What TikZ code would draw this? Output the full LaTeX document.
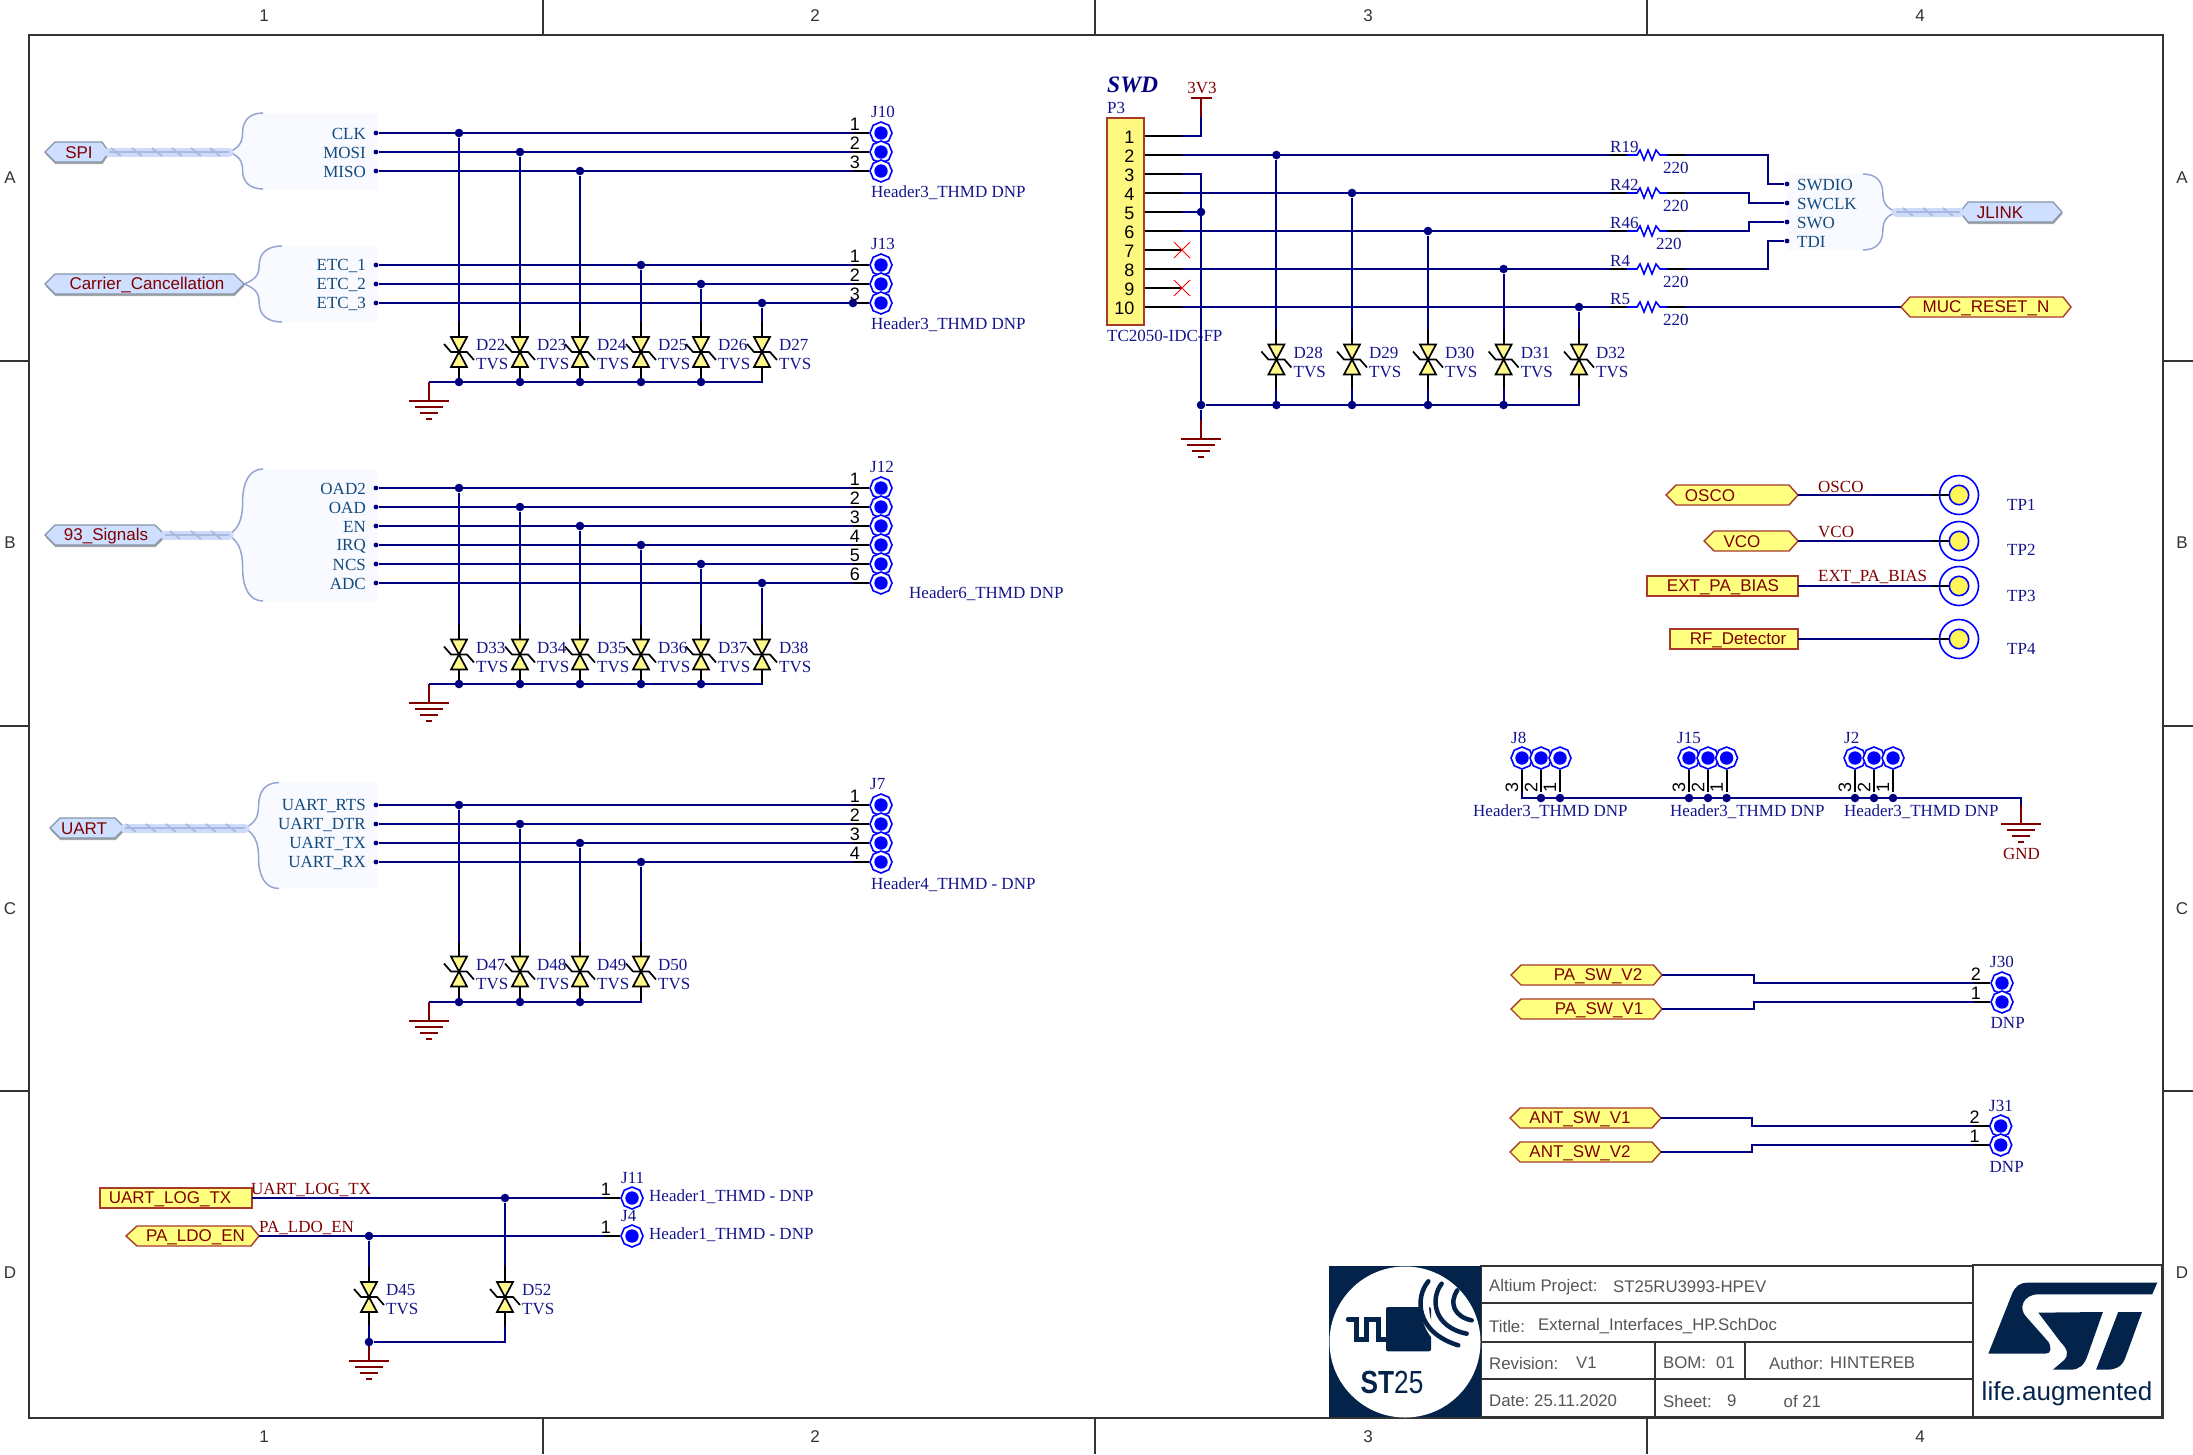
\documentclass[tikz,border=0pt]{standalone}
\usepackage{fontspec}
\setmainfont{Liberation Serif}
\setsansfont{Liberation Sans}
\usetikzlibrary{calc,shapes.geometric}

\definecolor{wireblue}{HTML}{000080}
\definecolor{desigblue}{HTML}{14148C}
\definecolor{netred}{HTML}{800000}
\definecolor{padblue}{HTML}{0000FF}
\definecolor{portyellow}{HTML}{FFFF80}
\definecolor{portedge}{HTML}{A83A2A}
\definecolor{busfill}{HTML}{CFDFFF}
\definecolor{busedge}{HTML}{8494AA}
\definecolor{bundlefill}{HTML}{CFDCF9}
\definecolor{bundleline}{HTML}{A9B9E2}
\definecolor{boxfill}{HTML}{F8FAFF}
\definecolor{boxcurve}{HTML}{95A5D2}
\definecolor{harnesstext}{HTML}{134A7E}
\definecolor{sheetgrey}{HTML}{333333}
\definecolor{titlegrey}{HTML}{555555}
\definecolor{stnavy}{HTML}{03234B}

\tikzset{
    wire/.style={draw=wireblue,line width=2pt},
    pinwire/.style={draw=black,line width=2pt},
    junction/.style={circle,fill=wireblue,inner sep=0pt,minimum size=8.6pt},
    harnessdot/.style={circle,fill=wireblue,inner sep=0pt,minimum size=4.8pt},
    desig/.style={anchor=west,inner sep=0pt,text=desigblue,font=\fontsize{17}{17}\selectfont},
    netlabel/.style={anchor=west,inner sep=0pt,text=netred,font=\fontsize{17}{17}\selectfont},
    pinnum/.style={inner sep=0pt,text=black,font=\sffamily\fontsize{18}{18}\selectfont},
    porttext/.style={inner sep=0pt,yshift=-1pt,text=netred,font=\sffamily\fontsize{17}{17}\selectfont},
    harnessname/.style={inner sep=0pt,yshift=-1pt,text=harnesstext,font=\fontsize{17}{17}\selectfont},
    yellowport/.style={fill=portyellow,draw=portedge,line width=1.4pt},
    busport/.style={fill=busfill,draw=busedge,line width=1.2pt,
        preaction={fill=gray!70,transform canvas={shift={(0.5pt,-2pt)}}}},
    tvsbody/.style={fill=yellow!45!white,draw=black,line width=1.7pt,line join=miter},
    gndred/.style={draw=netred,line width=2pt},
    padshape/.style={regular polygon,regular polygon sides=8,shape border rotate=22.5,
        draw=padblue,line width=1.6pt,fill=white,inner sep=0pt,minimum size=22pt},
    sheetline/.style={draw=sheetgrey,line width=1.1pt},
    zonetext/.style={inner sep=0pt,text=sheetgrey,font=\sffamily\fontsize{17}{17}\selectfont},
    titletext/.style={anchor=west,inner sep=0pt,text=titlegrey,font=\sffamily\fontsize{16.8}{17}\selectfont}
}

% TVS diode: name, x, centre y
\newcommand{\tvsdiode}[3]{
    \begin{scope}[shift={(#2,#3)}]
        \coordinate (#1-t) at (0,-30);
        \coordinate (#1-b) at (0,28);
        \draw[pinwire] (#1-t) -- (#1-b);
        \draw[tvsbody] (-8,-15) -- (8,-15) -- (0,0) -- cycle;
        \draw[tvsbody] (-8,15) -- (8,15) -- (0,0) -- cycle;
        \draw[draw=black,line width=1.7pt] (-15,-8) -- (-8,0) -- (8,0) -- (15,8);
        \node[desig] (#1) at (17,-7) {#1};
        \node[desig] (#1-v) at (17,12) {TVS};
    \end{scope}
}

% Ground symbol: name, x, y of the long bar
\newcommand{\gndsym}[3]{
    \coordinate (#1-s) at (#2,#3-19);
    \draw[gndred] (#1-s) -- (#2,#3);
    \draw[gndred] (#2-20,#3) -- (#2+20,#3);
    \draw[gndred] (#2-14,#3+6) -- (#2+14,#3+6);
    \draw[gndred] (#2-9,#3+12) -- (#2+9,#3+12);
    \draw[gndred] (#2-3,#3+18) -- (#2+3,#3+18);
}

% Header pad without its pin: name, x, y
\newcommand{\padnode}[3]{
    \node[padshape] (#1) at (#2,#3) {};
    \fill[padblue] (#2,#3) circle (6.7);
}

% Header pad with horizontal pin: name, x, y, number
\newcommand{\headerpad}[4]{
    \padnode{#1}{#2}{#3}
    \coordinate (#1-p) at (#2-28,#3);
    \draw[pinwire] (#1-p) -- (#1);
    \node[pinnum,anchor=east] (#1-n) at (#2-21,#3-9) {#4};
}

% Port: style, name, left tip, left shoulder, right shoulder, right tip, y, half height, text x, text
\newcommand{\portshape}[9]{
    \coordinate (#2-w) at (#3,#7);
    \coordinate (#2-e) at (#6,#7);
    \draw[#1] (#3,#7) -- (#4,#7-#8) -- (#5,#7-#8) -- (#6,#7) -- (#5,#7+#8) -- (#4,#7+#8) -- cycle;
    \portlabel{#2}{#7}{#9}
}
\newcommand{\portlabel}[3]{\def\portx{#3}\portlabelrest{#1}{#2}}
\newcommand{\portlabelrest}[3]{\node[porttext] (#1) at (\portx,#2) {#3};}

% Harness entry: name, tip x, curve x, edge x, top y, bottom y, tip y
\newcommand{\harnessentry}[7]{
    \pgfmathsetmacro{\hd}{#3-#2}
    \pgfmathsetmacro{\hm}{#2+0.4*\hd}
    \pgfmathsetmacro{\hc}{#2+0.25*\hd}
    \pgfmathsetmacro{\he}{#2+0.6*\hd}
    \coordinate (#1-tip) at (#2,#7);
    \fill[boxfill] (#3,#5) .. controls (\he,#5) and (\hm,{#5+0.2*(#7-#5)}) .. (\hm,{(#5+#7)/2})
        .. controls (\hm,{#7-0.2*(#7-#5)}) and (\hc,{#7-0.1*(#7-#5)}) .. (#2,#7)
        .. controls (\hc,{#7+0.1*(#6-#7)}) and (\hm,{#7+0.2*(#6-#7)}) .. (\hm,{(#6+#7)/2})
        .. controls (\hm,{#6-0.2*(#6-#7)}) and (\he,#6) .. (#3,#6)
        -- (#4,#6) -- (#4,#5) -- cycle;
    \draw[boxcurve,line width=1.5pt] (#3,#5) .. controls (\he,#5) and (\hm,{#5+0.2*(#7-#5)}) .. (\hm,{(#5+#7)/2})
        .. controls (\hm,{#7-0.2*(#7-#5)}) and (\hc,{#7-0.1*(#7-#5)}) .. (#2,#7)
        .. controls (\hc,{#7+0.1*(#6-#7)}) and (\hm,{#7+0.2*(#6-#7)}) .. (\hm,{(#6+#7)/2})
        .. controls (\hm,{#6-0.2*(#6-#7)}) and (\he,#6) .. (#3,#6);
}

% Harness bundle: from, to, y, tick positions
\newcommand{\bundlerun}[4]{
    \draw[bundlefill,line width=9pt,line cap=round] (#1) -- (#2);
    \draw[bundleline,line width=1.5pt] (#1) -- (#2);
    \foreach \tk in {#4} {
        \draw[bundleline,line width=1.8pt] (\tk-5,#3-4) -- (\tk+5,#3+4);
    }
}

% Harness row: name, y, text
\newcommand{\netrow}[3]{
    \node[harnessdot] (#1) at (376,#2) {};
    \node[harnessname,anchor=east] (#1-t) at (366,#2) {#3};
}

% Series resistor: name, y, value x
\newcommand{\resistor}[3]{
    \begin{scope}[shift={(1610,#2)}]
        \coordinate (#1-w) at (0,0);
        \coordinate (#1-e) at (75,0);
        \draw[pinwire] (0,0) -- (17,0);
        \draw[pinwire] (57,0) -- (75,0);
        \draw[draw=padblue,line width=1.6pt] (17,0) -- (27,0) -- (30,-5) -- (34,5) -- (38,-5)
            -- (42,5) -- (46,-5) -- (50,0) -- (57,0);
        \node[desig] (#1) at (0,-8) {#1};
        \node[desig] (#1-v) at (#3-1610,13) {220};
    \end{scope}
}

% Test point: name, y, label y
\newcommand{\testpoint}[3]{
    \coordinate (#1-p) at (1932,#2);
    \draw[pinwire] (#1-p) -- (1950,#2);
    \draw[draw=padblue,line width=1.6pt] (1959,#2) circle (19.5);
    \draw[draw=padblue,fill=yellow!65!white,line width=1.6pt] (1959,#2) circle (9.7);
    \node[desig] (#1) at (2007,#3) {#1};
}

\begin{document}
\begin{tikzpicture}[x=1pt,y=-1pt]
    \useasboundingbox (0,0) rectangle (2193,1454);

    % Sheet frame
    \draw[sheetline] (29,35) rectangle (2163,1418);
    \foreach \x in {543,1095,1647} {
        \draw[sheetline] (\x,0) -- (\x,35);
        \draw[sheetline] (\x,1418) -- (\x,1454);
    }
    \foreach \y in {361,726,1091} {
        \draw[sheetline] (0,\y) -- (29,\y);
        \draw[sheetline] (2163,\y) -- (2193,\y);
    }
    \foreach \x [count=\i] in {264,815,1368,1920} {
        \node[zonetext] (ztop\i) at (\x,16) {\i};
        \node[zonetext] (zbot\i) at (\x,1437) {\i};
    }
    \foreach \y/\z in {178/A,543/B,909/C,1273/D} {
        \node[zonetext] (zleft\z) at (10,\y) {\z};
        \node[zonetext] (zright\z) at (2182,\y) {\z};
    }

    % SPI and ETC harnesses
    \harnessentry{spibox}{229}{263}{377}{113}{189}{152}
    \harnessentry{etcbox}{244}{282}{377}{246}{322}{284}
    \portshape{busport}{spiport}{45}{55}{102}{109}{152}{10}{79}{SPI}
    \portshape{busport}{etcport}{45}{55}{234}{244}{284}{10}{147}{Carrier\_Cancellation}
    \bundlerun{spiport-e}{spibox-tip}{152}{116,137,157,177,196,215}

    % Headers J10, J13
    \foreach \y [count=\i] in {133,152,171} {\headerpad{J10-\i}{881}{\y}{\i}}
    \foreach \y [count=\i] in {265,284,303} {\headerpad{J13-\i}{881}{\y}{\i}}
    \node[desig] (J10) at (871,112) {J10};
    \node[desig] (J10-v) at (871,192.5) {Header3\_THMD DNP};
    \node[desig] (J13) at (871,244) {J13};
    \node[desig] (J13-v) at (871,325) {Header3\_THMD DNP};
    \node[junction] (J13-3-j) at (J13-3-p) {};

    \foreach \nm/\y/\txt/\tgt in {clk/133/CLK/J10-1,mosi/152/MOSI/J10-2,miso/171/MISO/J10-3,
        etca/265/ETC\_1/J13-1,etcb/284/ETC\_2/J13-2,etcc/303/ETC\_3/J13-3} {
        \netrow{\nm}{\y}{\txt}
        \draw[wire] (\nm) -- (\tgt-p);
    }

    % Diodes D22 to D27
    \foreach \d/\x/\nm in {D22/459/clk,D23/520/mosi,D24/580/miso,D25/641/etca,D26/701/etcb,D27/762/etcc} {
        \tvsdiode{\d}{\x}{352}
        \node[junction] (\d-j) at (\d-t |- \nm) {};
        \draw[wire] (\d-j) -- (\d-t);
    }
    \gndsym{gndA}{429}{401}
    \draw[wire] (gndA-s) -| (D27-b);
    \foreach \d in {D22,D23,D24,D25,D26} {
        \node[junction] (\d-s) at (\d-b |- gndA-s) {};
    }

    % 93 signals harness
    \harnessentry{sigbox}{229}{263}{377}{469}{601}{535}
    \portshape{busport}{sigport}{45}{55}{155}{165}{535}{10}{106}{93\_Signals}
    \bundlerun{sigport-e}{sigbox-tip}{535}{175,196,216}

    % Header J12
    \foreach \y [count=\i] in {488,507,526,545,564,583} {\headerpad{J12-\i}{881}{\y}{\i}}
    \node[desig] (J12) at (870,466.5) {J12};
    \node[desig] (J12-v) at (909,594) {Header6\_THMD DNP};

    \foreach \nm/\y/\txt/\tgt in {oadb/488/OAD2/J12-1,oad/507/OAD/J12-2,en/526/EN/J12-3,
        irq/545/IRQ/J12-4,ncs/564/NCS/J12-5,adc/583/ADC/J12-6} {
        \netrow{\nm}{\y}{\txt}
        \draw[wire] (\nm) -- (\tgt-p);
    }

    % Diodes D33 to D38
    \foreach \d/\x/\nm in {D33/459/oadb,D34/520/oad,D35/580/en,D36/641/irq,D37/701/ncs,D38/762/adc} {
        \tvsdiode{\d}{\x}{654.5}
        \node[junction] (\d-j) at (\d-t |- \nm) {};
        \draw[wire] (\d-j) -- (\d-t);
    }
    \gndsym{gndB}{429}{703}
    \draw[wire] (gndB-s) -| (D38-b);
    \foreach \d in {D33,D34,D35,D36,D37} {
        \node[junction] (\d-s) at (\d-b |- gndB-s) {};
    }

    % UART harness
    \harnessentry{uartbox}{245}{279}{377}{782.5}{888.5}{828}
    \portshape{busport}{uartport}{50}{60}{115}{125}{828}{10}{84}{UART}
    \bundlerun{uartport-e}{uartbox-tip}{828}{131,151,171,191,211,231}

    % Header J7
    \foreach \y [count=\i] in {805,824,843,862} {\headerpad{J7-\i}{881}{\y}{\i}}
    \node[desig] (J7) at (870,784) {J7};
    \node[desig] (J7-v) at (871,885) {Header4\_THMD - DNP};

    \foreach \nm/\y/\txt/\tgt in {rts/805/UART\_RTS/J7-1,dtr/824/UART\_DTR/J7-2,
        utx/843/UART\_TX/J7-3,urx/862/UART\_RX/J7-4} {
        \netrow{\nm}{\y}{\txt}
        \draw[wire] (\nm) -- (\tgt-p);
    }

    % Diodes D47 to D50
    \foreach \d/\x/\nm in {D47/459/rts,D48/520/dtr,D49/580/utx,D50/641/urx} {
        \tvsdiode{\d}{\x}{971.5}
        \node[junction] (\d-j) at (\d-t |- \nm) {};
        \draw[wire] (\d-j) -- (\d-t);
    }
    \gndsym{gndC}{429}{1021}
    \draw[wire] (gndC-s) -| (D50-b);
    \foreach \d in {D47,D48,D49} {
        \node[junction] (\d-s) at (\d-b |- gndC-s) {};
    }

    % UART log and LDO enable
    \portshape{yellowport}{logport}{100}{100}{252}{252}{1198}{10}{170}{UART\_LOG\_TX}
    \portshape{yellowport}{ldoport}{126}{137}{251}{259}{1236}{10}{195.5}{PA\_LDO\_EN}
    \node[netlabel] (lognet) at (251,1190) {UART\_LOG\_TX};
    \node[netlabel] (ldonet) at (259,1228) {PA\_LDO\_EN};
    \headerpad{J11-1}{632}{1198}{1}
    \headerpad{J4-1}{632}{1236}{1}
    \node[desig] (J11) at (621,1178) {J11};
    \node[desig] (J4) at (621,1216) {J4};
    \node[desig] (J11-v) at (649,1197) {Header1\_THMD - DNP};
    \node[desig] (J4-v) at (649,1235) {Header1\_THMD - DNP};
    \draw[wire] (logport-e) -- (J11-1-p);
    \draw[wire] (ldoport-e) -- (J4-1-p);
    \tvsdiode{D45}{369}{1297}
    \tvsdiode{D52}{505}{1297}
    \node[junction] (D45-j) at (D45-t |- ldoport-e) {};
    \node[junction] (D52-j) at (D52-t |- logport-e) {};
    \draw[wire] (D45-j) -- (D45-t);
    \draw[wire] (D52-j) -- (D52-t);
    \gndsym{gndD}{369}{1361}
    \node[junction] (D45-s) at (gndD-s) {};
    \draw[wire] (D45-b) -- (D45-s);
    \draw[wire] (D45-s) -| (D52-b);

    % SWD connector
    \node[anchor=west,inner sep=0pt,text=wireblue,font=\bfseries\itshape\fontsize{23.5}{24}\selectfont] (swd) at (1107,85) {SWD};
    \node[desig] (P3) at (1107,108) {P3};
    \node[desig] (P3-v) at (1107,336) {TC2050-IDC-FP};
    \node[fill=yellow!50!white,draw=portedge,line width=1.4pt,inner sep=0pt,minimum width=37pt,minimum height=207pt] (P3box) at (1125.5,221.5) {};
    \foreach \y [count=\i] in {136,155,174,193,212,231,250,269,288,307} {
        \coordinate (P3-\i) at (1182,\y);
        \draw[pinwire] (P3box.east |- P3-\i) -- (P3-\i);
        \node[pinnum,anchor=east] (P3-\i-n) at (1134.5,\y+1) {\i};
    }
    \foreach \i in {7,9} {
        \draw[draw=red,line width=1pt] ($(P3-\i)+(-8,-8)$) -- ($(P3-\i)+(8,8)$);
        \draw[draw=red,line width=1pt] ($(P3-\i)+(-8,8)$) -- ($(P3-\i)+(8,-8)$);
    }

    % 3V3 rail
    \coordinate (vcc) at (1201,98);
    \coordinate (vcc-s) at (1201,117);
    \draw[gndred] (vcc) -- (vcc-s);
    \draw[gndred] (1190.5,98) -- (1211.5,98);
    \node[inner sep=0pt,text=netred,font=\fontsize{17}{17}\selectfont] (vcc-t) at (1202,88) {3V3};
    \draw[wire] (P3-1) -| (vcc-s);

    % Series resistors
    \resistor{R19}{155}{1663}
    \resistor{R42}{193}{1663}
    \resistor{R46}{231}{1656}
    \resistor{R4}{269}{1663}
    \resistor{R5}{307}{1663}
    \draw[wire] (P3-2) -- (R19-w);
    \draw[wire] (P3-4) -- (R42-w);
    \draw[wire] (P3-6) -- (R46-w);
    \draw[wire] (P3-8) -- (R4-w);
    \draw[wire] (P3-10) -- (R5-w);

    % Diodes D28 to D32
    \foreach \d/\x/\r in {D28/1276.4/R19,D29/1352/R42,D30/1428/R46,D31/1503.6/R4,D32/1579/R5} {
        \tvsdiode{\d}{\x}{359.5}
        \node[junction] (\d-j) at (\d-t |- \r-w) {};
        \draw[wire] (\d-j) -- (\d-t);
    }
    \gndsym{gndE}{1201}{439}
    \node[junction] (swdbus) at (1201,405) {};
    \node[junction] (pinfive) at (P3-5 -| swdbus) {};
    \draw[wire] (P3-3) -| (swdbus);
    \draw[wire] (P3-5) -- (pinfive);
    \draw[wire] (swdbus) -- (gndE-s);
    \draw[wire] (swdbus) -| (D32-b);
    \foreach \d in {D28,D29,D30,D31} {
        \node[junction] (\d-s) at (\d-b |- swdbus) {};
        \draw[wire] (\d-b) -- (\d-s);
    }

    % JLINK harness
    \harnessentry{jlinkbox}{1896}{1863}{1787}{174}{250}{212}
    \portshape{busport}{jlinkport}{1960}{1968}{2053}{2062}{212}{10}{2000}{JLINK}
    \bundlerun{jlinkbox-tip}{jlinkport-w}{212}{1908,1928,1948}
    \foreach \nm/\y/\txt in {swdio/184/SWDIO,swclk/203/SWCLK,swo/222/SWO,tdi/241/TDI} {
        \node[harnessdot] (\nm) at (1787,\y) {};
        \node[harnessname,anchor=west] (\nm-t) at (1797,\y) {\txt};
    }
    \coordinate (swdio-k) at (1768,184);
    \coordinate (swclk-k) at (1749,203);
    \coordinate (swo-k) at (1749,222);
    \coordinate (tdi-k) at (1768,241);
    \draw[wire] (R19-e) -| (swdio-k) -- (swdio);
    \draw[wire] (R42-e) -| (swclk-k) -- (swclk);
    \draw[wire] (R46-e) -| (swo-k) -- (swo);
    \draw[wire] (R4-e) -| (tdi-k) -- (tdi);
    \portshape{yellowport}{resetport}{1901}{1910}{2063}{2071}{307}{10}{1986}{MUC\_RESET\_N}
    \draw[wire] (R5-e) -- (resetport-w);

    % Test points
    \portshape{yellowport}{oscoport}{1666}{1676}{1789}{1798}{495}{10}{1710}{OSCO}
    \portshape{yellowport}{vcoport}{1704}{1714}{1789}{1798}{541}{10}{1742}{VCO}
    \portshape{yellowport}{biasport}{1647}{1647}{1798}{1798}{586}{10}{1723}{EXT\_PA\_BIAS}
    \portshape{yellowport}{rfport}{1670}{1670}{1798}{1798}{639}{10}{1738}{RF\_Detector}
    \testpoint{TP1}{495}{505}
    \testpoint{TP2}{541}{550}
    \testpoint{TP3}{586}{596}
    \testpoint{TP4}{639}{649}
    \draw[wire] (oscoport-e) -- (TP1-p);
    \draw[wire] (vcoport-e) -- (TP2-p);
    \draw[wire] (biasport-e) -- (TP3-p);
    \draw[wire] (rfport-e) -- (TP4-p);
    \node[netlabel] (osconet) at (1818,487) {OSCO};
    \node[netlabel] (vconet) at (1818,532) {VCO};
    \node[netlabel] (biasnet) at (1818,577) {EXT\_PA\_BIAS};

    % Headers J8, J15, J2
    \foreach \nm/\x/\n in {J8-3/1522/3,J8-2/1541/2,J8-1/1560/1,
        J15-3/1689/3,J15-2/1708/2,J15-1/1726.6/1,J2-3/1855/3,J2-2/1874/2,J2-1/1893/1} {
        \padnode{\nm}{\x}{758}
        \coordinate (\nm-p) at (\x,792);
        \draw[pinwire] (\nm) -- (\nm-p);
        \node[pinnum,rotate=90] (\nm-n) at (\x-10,787) {\n};
    }
    \gndsym{gndF}{2021}{824}
    \node[inner sep=0pt,text=netred,font=\fontsize{17}{17}\selectfont] (gndF-t) at (2021.5,854) {GND};
    \coordinate (gndF-k) at (2021,798);
    \draw[wire] (J8-3-p) |- (gndF-k) -- (gndF-s);
    \foreach \nm in {J8-2,J8-1,J15-3,J15-2,J15-1,J2-3,J2-2,J2-1} {
        \node[junction] (\nm-j) at (\nm-p |- gndF-k) {};
    }
    \node[desig] (J8) at (1511,738) {J8};
    \node[desig] (J15) at (1677,738) {J15};
    \node[desig] (J2) at (1844,738) {J2};
    \node[desig] (J8-v) at (1473,812) {Header3\_THMD DNP};
    \node[desig] (J15-v) at (1670,812) {Header3\_THMD DNP};
    \node[desig] (J2-v) at (1844,812) {Header3\_THMD DNP};

    % PA and antenna switches
    \portshape{yellowport}{paswb}{1511}{1521}{1653.5}{1662}{975}{10}{1598}{PA\_SW\_V2}
    \portshape{yellowport}{paswa}{1511}{1521}{1653.5}{1662}{1009}{10}{1599}{PA\_SW\_V1}
    \portshape{yellowport}{antswa}{1510}{1520}{1652}{1661}{1118}{10}{1580}{ANT\_SW\_V1}
    \portshape{yellowport}{antswb}{1510}{1520}{1652}{1661}{1152}{10}{1580}{ANT\_SW\_V2}
    \headerpad{J30-2}{2002}{983}{2}
    \headerpad{J30-1}{2002}{1002}{1}
    \headerpad{J31-2}{2000.7}{1126}{2}
    \headerpad{J31-1}{2000.7}{1145}{1}
    \coordinate (J30-2-k) at (1754,983);
    \coordinate (J30-1-k) at (1754,1002);
    \coordinate (J31-2-k) at (1752,1126);
    \coordinate (J31-1-k) at (1752,1145);
    \draw[wire] (paswb-e) -| (J30-2-k) -- (J30-2-p);
    \draw[wire] (paswa-e) -| (J30-1-k) -- (J30-1-p);
    \draw[wire] (antswa-e) -| (J31-2-k) -- (J31-2-p);
    \draw[wire] (antswb-e) -| (J31-1-k) -- (J31-1-p);
    \node[desig] (J30) at (1990,962) {J30};
    \node[desig] (J31) at (1989,1106) {J31};
    \node[desig] (J30-v) at (1990.5,1023) {DNP};
    \node[desig] (J31-v) at (1989.5,1167) {DNP};

    % Title block
    \draw[sheetline] (1481,1266) rectangle (1973,1417);
    \draw[sheetline] (1481,1303) -- (1973,1303);
    \draw[sheetline] (1481,1342) -- (1973,1342);
    \draw[sheetline] (1481,1379) -- (1973,1379);
    \draw[sheetline] (1655,1342) -- (1655,1417);
    \draw[sheetline] (1745,1342) -- (1745,1379);
    \draw[sheetline] (1973,1265) rectangle (2162,1417);
    \foreach \nm/\x/\y/\txt in {tbproj/1489/1287/Altium Project:,tbprojv/1613/1287/ST25RU3993-HPEV,
        tbtitle/1489/1326/Title:,tbtitlev/1538/1326/External\_Interfaces\_HP.SchDoc,
        tbrev/1489/1363/Revision:,tbrevv/1576/1363/V1,tbbom/1663/1363/BOM:,tbbomv/1716/1363/01,
        tbauth/1769/1363/Author:,tbauthv/1830/1363/HINTEREB,
        tbdate/1489/1401/Date:,tbdatev/1534/1401/25.11.2020,
        tbsheet/1663/1401/Sheet:,tbsheetv/1727/1401/9,tbof/1783.5/1401/of 21} {
        \node[titletext] (\nm) at (\x,\y) {\txt};
    }

    % ST25 logo
    \fill[stnavy] (1329,1266) rectangle (1481,1417);
    \fill[white] (1405,1342) circle (75.5);
    \begin{scope}[shift={(1325,1262)},x=0.3333pt,y=-0.3333pt]
        \draw[stnavy,line width=5pt,line cap=round] (70,172) -- (95,172) -- (95,232) -- (125,232) -- (125,172)
            -- (160,172) -- (160,232) -- (190,232);
        \fill[stnavy,rounded corners=2pt] (183,135) rectangle (318,268);
        \draw[white,line width=8pt] (300,130) .. controls (300,180) and (320,225) .. (360,240);
        \draw[stnavy,line width=4.5pt,line cap=round] (310,58) .. controls (270,105) and (270,210) .. (400,250);
        \draw[stnavy,line width=4.5pt,line cap=round] (350,65) .. controls (315,110) and (325,195) .. (425,215);
        \draw[stnavy,line width=4.5pt,line cap=round] (397,85) .. controls (370,125) and (390,165) .. (440,175);
    \end{scope}
    \node[inner sep=0pt,text=stnavy,font=\sffamily\fontsize{32}{32}\selectfont,xscale=0.82] (st25) at (1392,1382) {\textbf{ST}25};

    % ST logo
    \begin{scope}[shift={(1972,1262)},x=0.34pt,y=-0.3333pt]
        \fill[stnavy] (48,275) -- (118,95) .. controls (128,72) and (140,62) .. (165,62) -- (545,62) -- (530,97)
            -- (195,97) .. controls (150,97) and (135,140) .. (160,165) -- (225,240) .. controls (235,260) and (232,275) .. (215,275) -- cycle;
        \fill[stnavy] (195,152) -- (385,150) -- (340,280) .. controls (330,310) and (315,323) .. (290,323) -- (238,323)
            -- (270,295) .. controls (285,280) and (282,262) .. (262,242) -- cycle;
        \fill[stnavy] (430,150) -- (500,150) -- (450,290) .. controls (440,315) and (420,323) .. (400,323) -- (365,323) -- cycle;
    \end{scope}
    \node[inner sep=0pt,text=stnavy,font=\sffamily\fontsize{26}{27}\selectfont] (lifeaug) at (2067,1394) {life.augmented};
\end{tikzpicture}
\end{document}
